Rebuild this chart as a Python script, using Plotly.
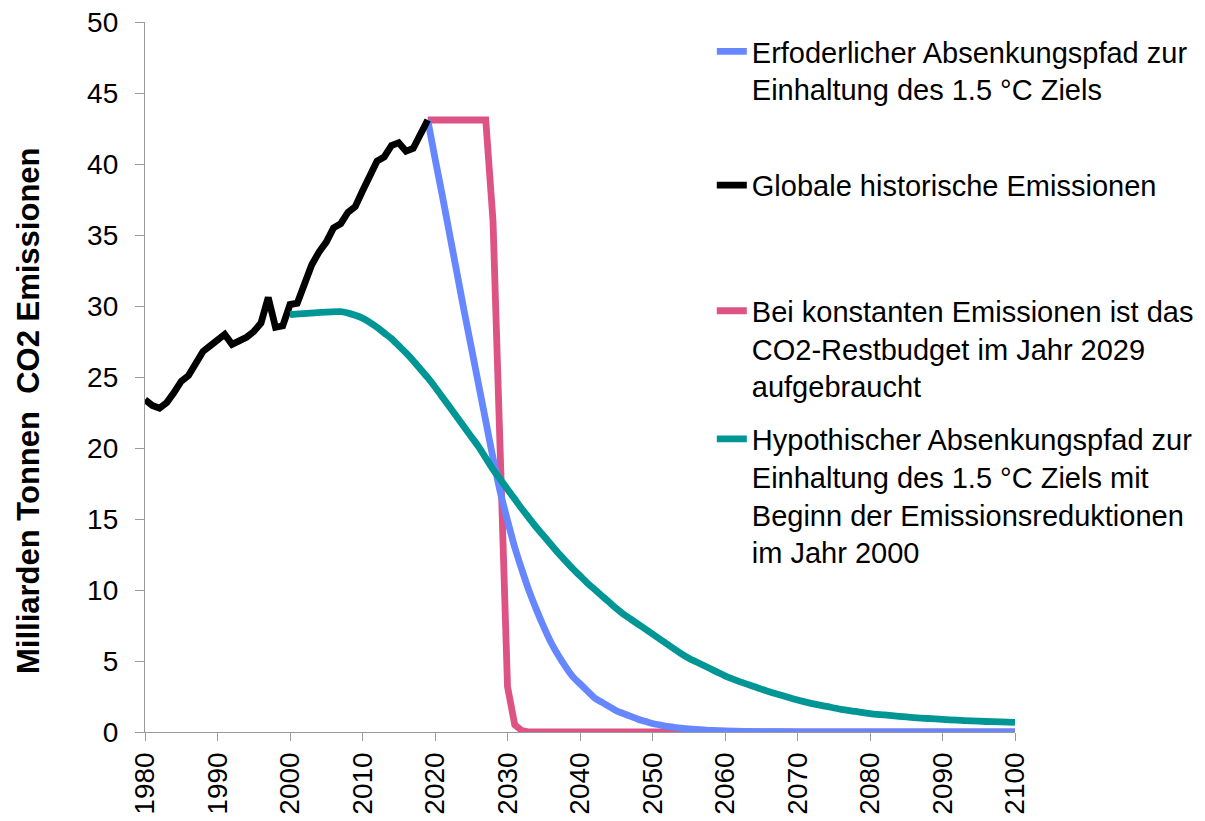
import plotly.graph_objects as go

# ---------------- data ----------------
hist_years = list(range(1980, 2020))
hist_values = [23.4, 23.0, 22.8, 23.2, 23.9, 24.7, 25.1, 25.9, 26.8, 27.2,
               27.6, 28.0, 27.3, 27.5, 27.8, 28.2, 28.8, 30.6, 28.5, 28.6,
               30.1, 30.2, 31.5, 32.9, 33.8, 34.5, 35.5, 35.8, 36.6, 37.0,
               38.1, 39.1, 40.2, 40.5, 41.3, 41.5, 40.9, 41.1, 42.2, 43.1]

req_years = list(range(2019, 2061)) + [2065, 2070, 2080, 2090, 2100]
req_values = [43.1, 40.4, 37.8, 35.1, 32.4, 29.7, 27.1, 24.5, 21.9, 19.3,
              16.9, 14.9, 13.0, 11.4, 9.9, 8.6, 7.4, 6.3, 5.4, 4.6,
              3.9, 3.4, 2.9, 2.4, 2.1, 1.8, 1.5, 1.3, 1.1, 0.9,
              0.75, 0.6, 0.5, 0.4, 0.33, 0.27, 0.22, 0.18, 0.15, 0.12,
              0.1, 0.08, 0.03, 0.01, 0.0, 0.0, 0.0]

const_years = [2019, 2027, 2028, 2029, 2030, 2031, 2032, 2033, 2100]
const_values = [43.1, 43.1, 36.0, 19.6, 3.2, 0.5, 0.1, 0.0, 0.0]

hypo_years = ([2000] + list(range(2007, 2061)) +
              list(range(2062, 2101, 2)))
hypo_values = [29.4,
               29.6, 29.5, 29.35, 29.15, 28.85, 28.5, 28.1, 27.7, 27.2, 26.7,
               26.15, 25.55, 24.95, 24.3, 23.6, 22.9, 22.2, 21.5, 20.8, 20.1,
               19.3, 18.5, 17.8, 17.1, 16.4, 15.7, 15.05, 14.4, 13.8, 13.2,
               12.6, 12.05, 11.5, 11.0, 10.5, 10.05, 9.6, 9.15, 8.7, 8.3,
               7.95, 7.6, 7.25, 6.9, 6.55, 6.2, 5.85, 5.5, 5.2, 4.95,
               4.7, 4.45, 4.2, 3.95,
               3.55, 3.2, 2.85, 2.55, 2.25, 2.0, 1.8, 1.6, 1.45, 1.3,
               1.2, 1.1, 1.02, 0.95, 0.89, 0.83, 0.78, 0.74, 0.71, 0.68]

x_ticks = list(range(1980, 2101, 10))
y_ticks = list(range(0, 51, 5))

name_req = "Erfoderlicher Absenkungspfad zur<br>Einhaltung des 1.5 °C Ziels"
name_hist = "Globale historische Emissionen"
name_const = ("Bei konstanten Emissionen ist das<br>CO2-Restbudget im Jahr 2029"
              "<br>aufgebraucht")
name_hypo = ("Hypothischer Absenkungspfad zur<br>Einhaltung des 1.5 °C Ziels mit"
             "<br>Beginn der Emissionsreduktionen<br>im Jahr 2000")
y_title = "Milliarden Tonnen\u00a0 CO2 Emissionen"

c_blue = "#6687FF"
c_black = "#000000"
c_pink = "#DC5384"
c_teal = "#009696"

FONT = "Liberation Sans, Arial, sans-serif"
LW = 6.8

fig = go.Figure()
fig.add_trace(go.Scatter(x=const_years, y=const_values, mode="lines", name=name_const,
                         line=dict(color=c_pink, width=LW), legend="legend3"))
fig.add_trace(go.Scatter(x=req_years, y=req_values, mode="lines", name=name_req,
                         line=dict(color=c_blue, width=LW, shape="spline", smoothing=0.8),
                         legend="legend"))
fig.add_trace(go.Scatter(x=hist_years, y=hist_values, mode="lines", name=name_hist,
                         line=dict(color=c_black, width=LW), legend="legend2"))
fig.add_trace(go.Scatter(x=hypo_years, y=hypo_values, mode="lines", name=name_hypo,
                         line=dict(color=c_teal, width=LW, shape="spline", smoothing=0.8),
                         legend="legend4"))

def leg(ytop):
    return dict(x=0.6515, y=ytop, xanchor="left", yanchor="top",
                font=dict(family=FONT, size=29, color="#000000"),
                bgcolor="rgba(0,0,0,0)", borderwidth=0, valign="top",
                itemclick=False, itemdoubleclick=False)

fig.update_layout(
    width=1205, height=821,
    margin=dict(l=137, r=198, t=14, b=97, autoexpand=False),
    paper_bgcolor="white", plot_bgcolor="white",
    font=dict(family=FONT, size=28, color="#000000"),
    showlegend=True,
    legend=leg(0.9943),
    legend2=leg(0.806),
    legend3=leg(0.629),
    legend4=leg(0.4485),
    xaxis=dict(range=[1980, 2100], tickmode="array", tickvals=x_ticks,
               ticktext=[str(v) for v in x_ticks], tickangle=-90,
               automargin=False, ticklabeloverflow="allow",
               showgrid=False, zeroline=False, showline=True,
               linecolor="#9a9a9a", linewidth=1.3, ticks="outside",
               ticklen=8, tickcolor="#9a9a9a", tickwidth=1.3,
               tickfont=dict(family=FONT, size=28, color="#000000")),
    yaxis=dict(range=[0, 50], tickmode="array", tickvals=y_ticks,
               automargin=False, ticklabeloverflow="allow",
               showgrid=False, zeroline=False, showline=True,
               linecolor="#9a9a9a", linewidth=1.3, ticks="outside",
               ticklen=9, tickcolor="#9a9a9a", tickwidth=1.3,
               ticklabelstandoff=11,
               tickfont=dict(family=FONT, size=28, color="#000000")),
    annotations=[dict(text=y_title, textangle=-90, showarrow=False,
                      xref="paper", yref="paper", x=-0.1345, y=0.4535,
                      xanchor="center", yanchor="middle",
                      font=dict(family=FONT, size=31, color="#000000",
                                weight="bold"))],
)

fig.write_html("out.html")
